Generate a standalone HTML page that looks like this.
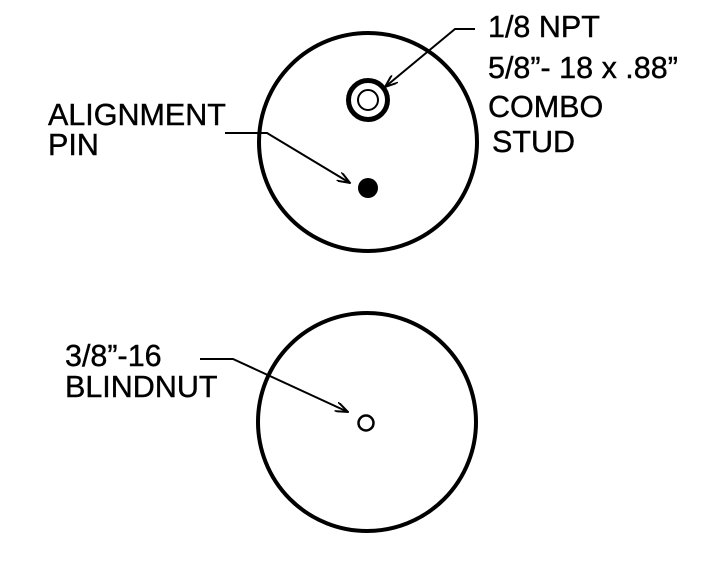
<!DOCTYPE html>
<html><head><meta charset="utf-8"><style>html,body{margin:0;padding:0;background:#fff}svg{display:block}</style></head>
<body>
<svg width="707" height="562" viewBox="0 0 707 562" xmlns="http://www.w3.org/2000/svg">
<defs>
<marker id="a" markerWidth="14" markerHeight="10" refX="13" refY="5" orient="auto" markerUnits="userSpaceOnUse">
<path d="M0,0 L13,5 L0,10" fill="none" stroke="#000" stroke-width="2"/>
</marker>
</defs>
<g fill="none" stroke="#000">
<circle cx="368" cy="142" r="109" stroke-width="4"/>
<circle cx="368" cy="100" r="19.5" stroke-width="5"/>
<circle cx="368" cy="100" r="10" stroke-width="2"/>
<circle cx="367" cy="422" r="109" stroke-width="4"/>
<circle cx="366" cy="423" r="7.5" stroke-width="2.5"/>
<polyline points="475,29 455,29 385,87" stroke-width="2" marker-end="url(#a)"/>
<polyline points="225,133 267,133 350,183" stroke-width="2" marker-end="url(#a)"/>
<polyline points="200,359 233,359 348,412" stroke-width="2" marker-end="url(#a)"/>
</g>
<circle cx="368" cy="188" r="10" fill="#000"/>
<g font-family="Liberation Sans, sans-serif" font-size="30.5" fill="#000" stroke="#000" stroke-width="0.4">
<text x="488" y="37">1/8 NPT</text>
<text x="488" y="78">5/8”- 18 x .88”</text>
<text x="488" y="117">COMBO</text>
<text x="492" y="152">STUD</text>
<text x="48" y="125">ALIGNMENT</text>
<text x="48" y="155">PIN</text>
<text x="65" y="366">3/8”-16</text>
<text x="65" y="397">BLINDNUT</text>
</g>
</svg>
</body></html>
